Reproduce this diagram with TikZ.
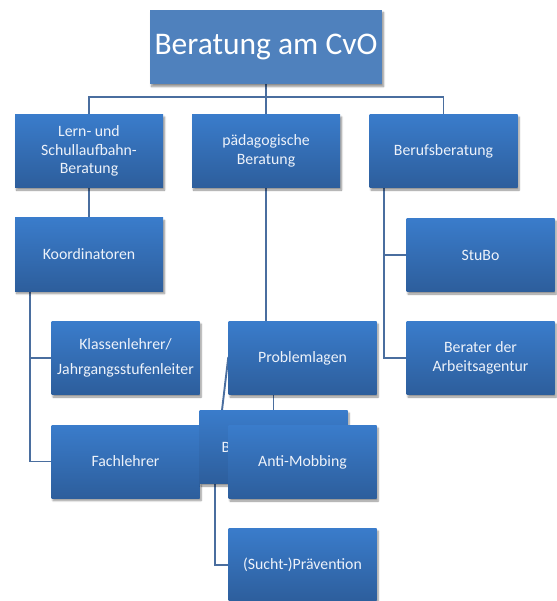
\documentclass[tikz,border=0pt]{standalone}
\usepackage{fontspec}
\setmainfont{Carlito}
\usetikzlibrary{shadows.blur,backgrounds}
\definecolor{boxtop}{HTML}{3A7CCB}
\definecolor{boxbot}{HTML}{2D5E9C}
\definecolor{titlefill}{HTML}{4F81BD}
\definecolor{linec}{HTML}{4A6E9F}
\definecolor{txt}{HTML}{EDF2FA}
\begin{document}
\begin{tikzpicture}[x=1pt,y=-1pt,
  box/.style={rectangle, minimum width=148pt, minimum height=73pt, inner sep=1pt,
    top color=boxtop, bottom color=boxbot, draw=none, text=txt, align=center,
    font=\fontsize{15.8}{18.5}\selectfont,
    blur shadow={shadow xshift=1.5pt, shadow yshift=-2.5pt, shadow blur steps=6, shadow opacity=45}},
  titlebox/.style={rectangle, minimum width=232pt, minimum height=74pt, inner sep=1pt,
    fill=titlefill, text=white, font=\fontsize{31.5}{36}\selectfont,
    blur shadow={shadow xshift=1.5pt, shadow yshift=-2.5pt, shadow blur steps=6, shadow opacity=45}},
  conn/.style={draw=linec, line width=1.9pt}]
\useasboundingbox (0,0) rectangle (556,601);

% boxes
\node[titlebox] (title) at (266,47) {Beratung am CvO};
\node[box] (left)  at (89,151)  {Lern- und\\Schullaufbahn-\\Beratung};
\node[box] (mid)   at (266,151) {pädagogische\\Beratung};
\node[box] (right) at (443.5,151) {Berufsberatung};
\node[box] (koord) at (89,254.5) {Koordinatoren};
\node[box] (klass) at (125.5,358) {Klassenlehrer/\\[6pt]Jahrgangsstufenleiter};
\node[box] (fach)  at (125.5,461.5) {Fachlehrer};
\node[box] (prob)  at (302.5,358) {Problemlagen};
\node[box] (hb)    at (273.5,447) {};
\node[text=txt, font=\fontsize{15.8}{18.5}\selectfont, anchor=west, inner sep=0pt] (hbtext) at (221.5,447) {B};
\node[box] (anti)  at (302.5,462) {Anti-Mobbing};
\node[box] (praev) at (302.5,565) {(Sucht-)Prävention};
\node[box] (stubo) at (480.5,255) {StuBo};
\node[box] (berater) at (480.5,358) {Berater der\\Arbeitsagentur};

% connectors
\begin{pgfonlayer}{background}
\draw[conn] (title.center) -- (mid.center);
\draw[conn] (left.north) -- ++(0,-17) -| (right.north);
\draw[conn] (left.south) -- (koord.north);
\draw[conn] ([xshift=-59pt]koord.south) |- (klass.west);
\draw[conn] ([xshift=-59pt]koord.south) |- (fach.west);
\draw[conn] (mid.south) -- (mid.south |- prob.north);
\draw[conn] (hb.north) -- (hb.north |- prob.south);
\draw[conn] ([yshift=1pt]prob.west) -- ([xshift=-51.5pt]hb.north);
\draw[conn] ([xshift=-58.5pt]hb.south) |- (praev.west);
\draw[conn] ([xshift=-59.5pt]right.south) |- (stubo.west);
\draw[conn] ([xshift=-59.5pt]right.south) |- (berater.west);
\end{pgfonlayer}
\end{tikzpicture}
\end{document}
